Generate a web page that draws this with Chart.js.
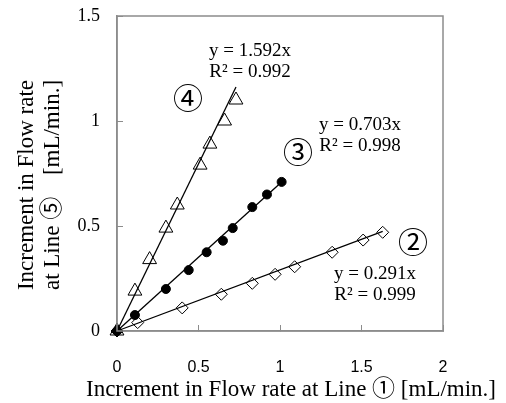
<!DOCTYPE html>
<html>
<head>
<meta charset="utf-8">
<script src="https://cdn.jsdelivr.net/npm/chart.js@4.4.1/dist/chart.umd.min.js"></script>
<style>
  body { margin: 0; background: #fff; }
</style>
</head>
<body>
<canvas id="flow-chart" width="506" height="403"></canvas>
<script>
// line 2 (open diamonds)
const line2X = [0, 0.127, 0.40, 0.64, 0.83, 0.97, 1.09, 1.32, 1.51, 1.63];
const line2Y = [0, 0.040, 0.11, 0.175, 0.227, 0.27, 0.306, 0.375, 0.433, 0.47];
// line 3 (filled circles)
const line3X = [0, 0.11, 0.30, 0.44, 0.55, 0.65, 0.71, 0.83, 0.92, 1.01];
const line3Y = [0, 0.076, 0.20, 0.29, 0.375, 0.43, 0.49, 0.59, 0.65, 0.71];
// line 4 (open triangles)
const line4X = [0, 0.11, 0.20, 0.30, 0.37, 0.51, 0.57, 0.66, 0.73];
const line4Y = [0, 0.19, 0.34, 0.49, 0.60, 0.79, 0.89, 1.00, 1.10];

// fitted slopes (through origin) and labels
const slopes = [0.291, 0.703, 1.592];
const eqLabels = ['y = 0.291x', 'y = 0.703x', 'y = 1.592x'];
const r2Labels = ['R² = 0.999', 'R² = 0.998', 'R² = 0.992'];
const lineNames = ['②', '③', '④'];

const xTicks = [0, 0.5, 1, 1.5, 2];
const yTicks = [0, 0.5, 1, 1.5];

const xTitle = 'Increment in Flow rate at Line ① [mL/min.]';
const yTitle = ['Increment in Flow rate', 'at Line ⑤', '[mL/min.]'];

const serif = '"Liberation Serif", "Noto Sans CJK JP", serif';

function pts(xs, ys) {
    return xs.map(function (x, i) { return { x: x, y: ys[i] }; });
}

function trend(xs, k) {
    const end = xs[xs.length - 1];
    return [{ x: 0, y: 0 }, { x: end, y: k * end }];
}

// where the equation / name labels sit, in data units
const eqAt = [[1.583, 0.269], [1.491, 0.983], [0.816, 1.331]];
const nameAt = [[1.816, 0.426], [1.110, 0.855], [0.436, 1.112]];

const boxAndNotes = {
    id: 'boxAndNotes',
    afterDraw: function (chart) {
        const ctx = chart.ctx;
        const a = chart.chartArea;
        const sx = chart.scales.x, sy = chart.scales.y;
        ctx.save();
        ctx.strokeStyle = '#8c8c8c';
        ctx.lineWidth = 1.5;
        ctx.strokeRect(a.left, a.top, a.right - a.left, a.bottom - a.top);

        ctx.fillStyle = '#000';
        ctx.textAlign = 'center';
        ctx.textBaseline = 'middle';
        ctx.font = '19px ' + serif;
        eqLabels.forEach(function (t, i) {
            const px = sx.getPixelForValue(eqAt[i][0]);
            const py = sy.getPixelForValue(eqAt[i][1]);
            ctx.fillText(t, px, py);
            ctx.fillText(r2Labels[i], px, py + 21);
        });
        ctx.font = '30px "Noto Sans CJK JP", sans-serif';
        lineNames.forEach(function (t, i) {
            ctx.fillText(t, sx.getPixelForValue(nameAt[i][0]), sy.getPixelForValue(nameAt[i][1]));
        });

        // axis titles
        ctx.font = '23px ' + serif;
        ctx.fillText(xTitle, 291, 390);

        ctx.translate(27, 185);
        ctx.rotate(-Math.PI / 2);
        const half = ctx.measureText(yTitle[0]).width / 2;
        ctx.fillText(yTitle[0], 0, 0);
        ctx.textAlign = 'left';
        ctx.fillText(yTitle[1], -half, 26);
        ctx.textAlign = 'right';
        ctx.fillText(yTitle[2], half, 26);
        ctx.restore();
    }
};

const marker = { borderColor: '#000', borderWidth: 1, showLine: false, clip: false };
const fitLine = { borderColor: '#000', borderWidth: 1.3, pointRadius: 0, showLine: true, clip: false };
const plain = function (v) { return String(v); };

new Chart(document.getElementById('flow-chart'), {
    type: 'scatter',
    data: {
        datasets: [
            Object.assign({ data: trend(line2X, slopes[0]) }, fitLine),
            Object.assign({ data: trend(line3X, slopes[1]) }, fitLine),
            Object.assign({ data: trend(line4X, slopes[2]) }, fitLine),
            Object.assign({ data: pts(line2X, line2Y), pointStyle: 'rectRot', pointRadius: 6, backgroundColor: 'rgba(0,0,0,0)' }, marker),
            Object.assign({ data: pts(line3X, line3Y), pointStyle: 'circle', pointRadius: 4.5, backgroundColor: '#000' }, marker),
            Object.assign({ data: pts(line4X, line4Y), pointStyle: 'triangle', pointRadius: 8, backgroundColor: 'rgba(0,0,0,0)' }, marker)
        ]
    },
    options: {
        responsive: false,
        animation: false,
        layout: { padding: { top: 16, right: 63, left: 0, bottom: 0 } },
        plugins: {
            legend: { display: false },
            tooltip: { enabled: false }
        },
        scales: {
            x: {
                type: 'linear',
                min: 0,
                max: 2,
                afterBuildTicks: function (s) { s.ticks = xTicks.map(function (v) { return { value: v }; }); },
                afterFit: function (s) { s.height = 72; s.paddingLeft = 0; s.paddingRight = 0; },
                border: { color: '#8c8c8c', width: 1.5 },
                grid: { drawOnChartArea: false, tickLength: -6, color: '#8c8c8c' },
                ticks: { padding: 33, color: '#000', callback: plain, font: { family: '"Liberation Sans", sans-serif', size: 16 } }
            },
            y: {
                min: 0,
                max: 1.5,
                afterBuildTicks: function (s) { s.ticks = yTicks.map(function (v) { return { value: v }; }); },
                afterFit: function (s) { s.width = 117; s.paddingTop = 0; s.paddingBottom = 0; },
                border: { color: '#8c8c8c', width: 1.5 },
                grid: { drawOnChartArea: false, tickLength: -6, color: '#8c8c8c' },
                ticks: { padding: 23, color: '#000', callback: plain, font: { family: serif, size: 18 } }
            }
        }
    },
    plugins: [boxAndNotes]
});
</script>
</body>
</html>
